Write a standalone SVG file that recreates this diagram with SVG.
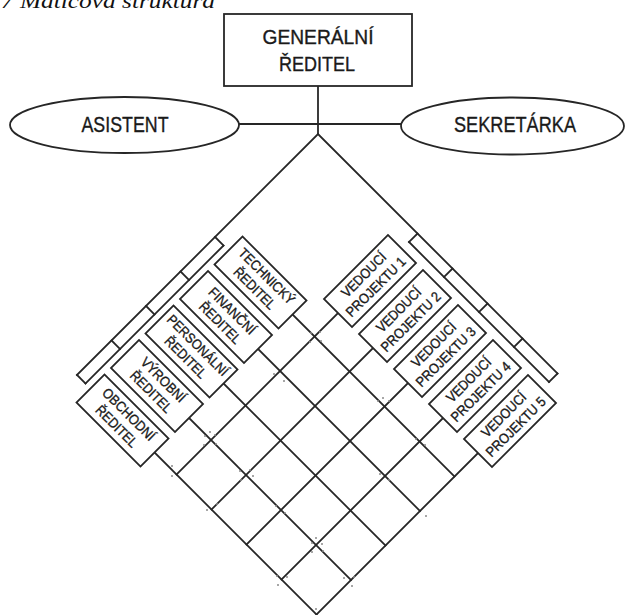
<svg xmlns="http://www.w3.org/2000/svg" width="625" height="615" viewBox="0 0 625 615">
<style>
.ln{fill:none;stroke:#262626;stroke-width:1.8;stroke-linecap:square}
.bx{fill:#fff;stroke:#262626;stroke-width:1.8}
.t{font-family:"Liberation Sans",Arial,sans-serif;fill:#1a1a1a;stroke:#1a1a1a;stroke-width:0.35;text-anchor:middle}
.big{font-size:20px}
.el{font-size:22px}
.sm{font-size:14px}
.title{font-family:"Liberation Serif","Times New Roman",serif;font-style:italic;font-size:22px;fill:#111}
.dot{fill:#8a8a8a}
</style>
<rect width="625" height="615" fill="#fff"/>
<text class="title" x="1" y="8" textLength="214" lengthAdjust="spacingAndGlyphs">7 Maticová struktura</text>

<g id="connectors">
  <line class="ln" x1="318" y1="86" x2="318" y2="134"/>
  <line class="ln" x1="239" y1="124" x2="401" y2="124"/>
  <polyline class="ln" points="77,375 318,134 557.5,373.5"/>
  <line class="ln" x1="223.5" y1="245.5" x2="85.5" y2="383.5"/>
  <line class="ln" x1="215" y1="237" x2="223.5" y2="245.5"/>
  <line class="ln" x1="180.5" y1="271.5" x2="189" y2="280"/>
  <line class="ln" x1="146" y1="306" x2="154.5" y2="314.5"/>
  <line class="ln" x1="111.5" y1="340.5" x2="120" y2="349"/>
  <line class="ln" x1="77" y1="375" x2="85.5" y2="383.5"/>
  <line class="ln" x1="409" y1="242" x2="549" y2="382"/>
  <line class="ln" x1="417.5" y1="233.5" x2="409" y2="242"/>
  <line class="ln" x1="452.5" y1="268.5" x2="444" y2="277"/>
  <line class="ln" x1="487.5" y1="303.5" x2="479" y2="312"/>
  <line class="ln" x1="522.5" y1="338.5" x2="514" y2="347"/>
  <line class="ln" x1="557.5" y1="373.5" x2="549" y2="382"/>
  <line class="ln" x1="292.5" y1="314.5" x2="454.5" y2="476.5"/>
  <line class="ln" x1="258" y1="349" x2="420" y2="511"/>
  <line class="ln" x1="223.5" y1="383.5" x2="385.5" y2="545.5"/>
  <line class="ln" x1="189" y1="418" x2="351" y2="580"/>
  <line class="ln" x1="154.5" y1="452.5" x2="316.5" y2="614.5"/>
  <line class="ln" x1="338" y1="313" x2="176.5" y2="474.5"/>
  <line class="ln" x1="373" y1="348" x2="211.5" y2="509.5"/>
  <line class="ln" x1="408" y1="383" x2="246.5" y2="544.5"/>
  <line class="ln" x1="443" y1="418" x2="281.5" y2="579.5"/>
  <line class="ln" x1="478" y1="453" x2="316.5" y2="614.5"/>
</g>

<g id="speckles">
  <circle class="dot" cx="311" cy="333" r="1"/><circle class="dot" cx="320" cy="332" r="1"/><circle class="dot" cx="310" cy="342" r="1"/><circle class="dot" cx="321" cy="341" r="1"/>
  <circle class="dot" cx="205" cy="436" r="1"/><circle class="dot" cx="215" cy="435" r="1"/><circle class="dot" cx="204" cy="445" r="1"/><circle class="dot" cx="216" cy="444" r="1"/><circle class="dot" cx="210" cy="432" r="1"/>
  <circle class="dot" cx="240" cy="471" r="1"/><circle class="dot" cx="250" cy="470" r="1"/><circle class="dot" cx="241" cy="480" r="1"/><circle class="dot" cx="253" cy="476" r="1"/>
  <circle class="dot" cx="312" cy="543" r="1"/><circle class="dot" cx="322" cy="544" r="1"/><circle class="dot" cx="312" cy="552" r="1"/><circle class="dot" cx="323" cy="551" r="1"/><circle class="dot" cx="316" cy="538" r="1"/>
  <circle class="dot" cx="378" cy="401" r="1"/><circle class="dot" cx="389" cy="401" r="1"/><circle class="dot" cx="383" cy="398" r="1"/>
  <circle class="dot" cx="277" cy="576" r="1"/><circle class="dot" cx="287" cy="577" r="1"/><circle class="dot" cx="278" cy="585" r="1"/>
  <circle class="dot" cx="344" cy="578" r="1"/><circle class="dot" cx="354" cy="577" r="1"/><circle class="dot" cx="352" cy="586" r="1"/>
  <circle class="dot" cx="274" cy="374" r="1"/><circle class="dot" cx="284" cy="381" r="1"/>
  <circle class="dot" cx="416" cy="439" r="1"/><circle class="dot" cx="425" cy="445" r="1"/>
  <circle class="dot" cx="380" cy="474" r="1"/><circle class="dot" cx="389" cy="480" r="1"/>
  <circle class="dot" cx="172" cy="466" r="1"/><circle class="dot" cx="172" cy="476" r="1"/>
  <circle class="dot" cx="207" cy="510" r="1"/><circle class="dot" cx="217" cy="504" r="1"/>
  <circle class="dot" cx="276" cy="506" r="1"/><circle class="dot" cx="285" cy="513" r="1"/>
  <circle class="dot" cx="426" cy="516" r="1"/>
  <circle class="dot" cx="316" cy="609" r="1"/>
</g>

<g id="generalni-reditel">
  <rect class="bx" x="224" y="14" width="188" height="72"/>
  <text class="t big" x="318" y="44" textLength="111" lengthAdjust="spacingAndGlyphs">GENERÁLNÍ</text>
  <text class="t big" x="317" y="71" textLength="76" lengthAdjust="spacingAndGlyphs">ŘEDITEL</text>
</g>
<g id="asistent">
  <ellipse class="bx" cx="124.5" cy="125" rx="114.5" ry="28"/>
  <text class="t el" x="125" y="132" textLength="87" lengthAdjust="spacingAndGlyphs">ASISTENT</text>
</g>
<g id="sekretarka">
  <ellipse class="bx" cx="512.5" cy="126" rx="111.5" ry="28.5"/>
  <text class="t el" x="515" y="132" textLength="122" lengthAdjust="spacingAndGlyphs">SEKRETÁRKA</text>
</g>

<g id="technicky-reditel" transform="translate(260.5,282.5) rotate(45)">
  <rect class="bx" x="-45.25" y="-19.8" width="90.5" height="39.6"/>
  <text class="t sm" x="0" y="-4" textLength="73" lengthAdjust="spacingAndGlyphs">TECHNICKÝ</text>
  <text class="t sm" x="0" y="13" textLength="53" lengthAdjust="spacingAndGlyphs">ŘEDITEL</text>
</g>
<g id="financni-reditel" transform="translate(226,317) rotate(45)">
  <rect class="bx" x="-45.25" y="-19.8" width="90.5" height="39.6"/>
  <text class="t sm" x="0" y="-4" textLength="60" lengthAdjust="spacingAndGlyphs">FINANČNÍ</text>
  <text class="t sm" x="0" y="13" textLength="53" lengthAdjust="spacingAndGlyphs">ŘEDITEL</text>
</g>
<g id="personalni-reditel" transform="translate(191.5,351.5) rotate(45)">
  <rect class="bx" x="-45.25" y="-19.8" width="90.5" height="39.6"/>
  <text class="t sm" x="0" y="-4" textLength="80" lengthAdjust="spacingAndGlyphs">PERSONÁLNÍ</text>
  <text class="t sm" x="0" y="13" textLength="53" lengthAdjust="spacingAndGlyphs">ŘEDITEL</text>
</g>
<g id="vyrobni-reditel" transform="translate(157,386) rotate(45)">
  <rect class="bx" x="-45.25" y="-19.8" width="90.5" height="39.6"/>
  <text class="t sm" x="0" y="-4" textLength="57" lengthAdjust="spacingAndGlyphs">VÝROBNÍ</text>
  <text class="t sm" x="0" y="13" textLength="53" lengthAdjust="spacingAndGlyphs">ŘEDITEL</text>
</g>
<g id="obchodni-reditel" transform="translate(122.5,420.5) rotate(45)">
  <rect class="bx" x="-45.25" y="-19.8" width="90.5" height="39.6"/>
  <text class="t sm" x="0" y="-4" textLength="68" lengthAdjust="spacingAndGlyphs">OBCHODNÍ</text>
  <text class="t sm" x="0" y="13" textLength="53" lengthAdjust="spacingAndGlyphs">ŘEDITEL</text>
</g>

<g id="vedouci-projektu-1" transform="translate(370,281) rotate(-45)">
  <rect class="bx" x="-45.25" y="-19.8" width="90.5" height="39.6"/>
  <text class="t sm" x="0" y="-4" textLength="57" lengthAdjust="spacingAndGlyphs">VEDOUCÍ</text>
  <text class="t sm" x="0" y="13" textLength="78" lengthAdjust="spacingAndGlyphs">PROJEKTU 1</text>
</g>
<g id="vedouci-projektu-2" transform="translate(405,316) rotate(-45)">
  <rect class="bx" x="-45.25" y="-19.8" width="90.5" height="39.6"/>
  <text class="t sm" x="0" y="-4" textLength="57" lengthAdjust="spacingAndGlyphs">VEDOUCÍ</text>
  <text class="t sm" x="0" y="13" textLength="78" lengthAdjust="spacingAndGlyphs">PROJEKTU 2</text>
</g>
<g id="vedouci-projektu-3" transform="translate(440,351) rotate(-45)">
  <rect class="bx" x="-45.25" y="-19.8" width="90.5" height="39.6"/>
  <text class="t sm" x="0" y="-4" textLength="57" lengthAdjust="spacingAndGlyphs">VEDOUCÍ</text>
  <text class="t sm" x="0" y="13" textLength="78" lengthAdjust="spacingAndGlyphs">PROJEKTU 3</text>
</g>
<g id="vedouci-projektu-4" transform="translate(475,386) rotate(-45)">
  <rect class="bx" x="-45.25" y="-19.8" width="90.5" height="39.6"/>
  <text class="t sm" x="0" y="-4" textLength="57" lengthAdjust="spacingAndGlyphs">VEDOUCÍ</text>
  <text class="t sm" x="0" y="13" textLength="78" lengthAdjust="spacingAndGlyphs">PROJEKTU 4</text>
</g>
<g id="vedouci-projektu-5" transform="translate(510,421) rotate(-45)">
  <rect class="bx" x="-45.25" y="-19.8" width="90.5" height="39.6"/>
  <text class="t sm" x="0" y="-4" textLength="57" lengthAdjust="spacingAndGlyphs">VEDOUCÍ</text>
  <text class="t sm" x="0" y="13" textLength="78" lengthAdjust="spacingAndGlyphs">PROJEKTU 5</text>
</g>
</svg>
